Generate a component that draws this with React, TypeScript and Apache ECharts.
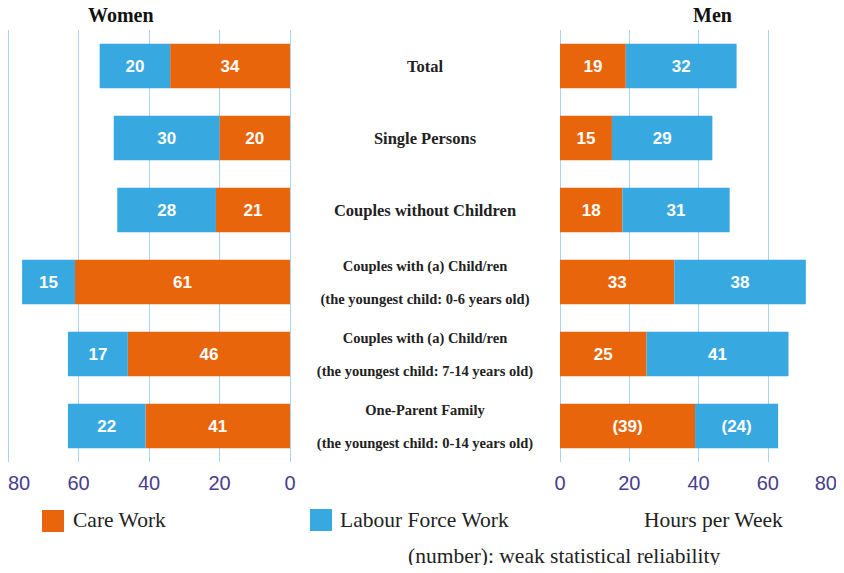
import React, { useEffect, useRef } from "react";
import * as echarts from "echarts";

const categories = [
  "Total",
  "Single Persons",
  "Couples without Children",
  "Couples with (a) Child/ren\n(the youngest child: 0-6 years old)",
  "Couples with (a) Child/ren\n(the youngest child: 7-14 years old)",
  "One-Parent Family\n(the youngest child: 0-14 years old)",
];
const womenCare = [34, 20, 21, 61, 46, 41];
const womenLabour = [20, 30, 28, 15, 17, 22];
const menCare = [19, 15, 18, 33, 25, 39];
const menLabour = [32, 29, 31, 38, 41, 24];
const menWeak = [false, false, false, false, false, true];
const womenWeak = [false, false, false, false, false, false];
const axisTicks = [0, 20, 40, 60, 80];
const legendNames = ["Care Work", "Labour Force Work"];

const ORANGE = "#E8650C";
const BLUE = "#38A9E0";
const SERIF = "'Liberation Serif', serif";
const SANS = "'Liberation Sans', sans-serif";

export default function App() {
  const ref = useRef<HTMLDivElement>(null);
  useEffect(() => {
    if (!ref.current) return;
    const chart = echarts.init(ref.current, undefined, { renderer: "svg" });
    const valLabel = (weak: boolean[]) => ({
      show: true,
      color: "#fff",
      fontFamily: SANS,
      fontWeight: "bold" as const,
      fontSize: 17,
      formatter: (p: any) => (weak[p.dataIndex] ? `(${p.value})` : `${p.value}`),
    });
    const xBase = (grid: number, inverse: boolean) => ({
      type: "value" as const,
      gridIndex: grid,
      min: axisTicks[0],
      max: axisTicks[axisTicks.length - 1],
      interval: 20,
      inverse,
      axisLine: { show: false },
      axisTick: { show: false },
      splitLine: { show: true, lineStyle: { color: "#A9D3F0", width: 1 } },
      axisLabel: {
        color: "#4A3C8C",
        fontFamily: SANS,
        fontSize: 20,
        margin: 11,
        ...(inverse ? { alignMaxLabel: "left" } : { alignMaxLabel: "right" }),
      },
    });
    const serifText = (x: number, y: number, text: string) => ({
      type: "text",
      left: x,
      top: y,
      style: { text, fontFamily: SERIF, fontSize: 21.5, fill: "#222" },
    });
    chart.setOption({
      animation: false,
      backgroundColor: "#fff",
      grid: [
        { left: 8, top: 30, width: 282, height: 432, containLabel: false },
        { left: 560, top: 30, width: 277, height: 432, containLabel: false },
      ],
      xAxis: [xBase(0, true), xBase(1, false)],
      yAxis: [
        {
          type: "category",
          gridIndex: 0,
          data: categories,
          inverse: true,
          position: "right",
          axisLine: { show: false },
          axisTick: { show: false },
          axisLabel: {
            margin: 135,
            align: "center",
            formatter: (v: string) => {
              const parts = v.split("\n");
              if (parts.length === 1) return `{a|${v}}`;
              return parts.map((s) => `{b|${s}}`).join("\n");
            },
            rich: {
              a: { fontFamily: SERIF, fontWeight: "bold", fontSize: 16.5, color: "#222" },
              b: { fontFamily: SERIF, fontWeight: "bold", fontSize: 14.5, color: "#222", lineHeight: 33 },
            },
          },
        },
        {
          type: "category",
          gridIndex: 1,
          data: categories,
          inverse: true,
          axisLine: { show: false },
          axisTick: { show: false },
          axisLabel: { show: false },
        },
      ],
      series: [
        {
          name: legendNames[0],
          type: "bar",
          stack: "w",
          xAxisIndex: 0,
          yAxisIndex: 0,
          data: womenCare,
          barWidth: "62%",
          itemStyle: { color: ORANGE },
          label: valLabel(womenWeak),
        },
        {
          name: legendNames[1],
          type: "bar",
          stack: "w",
          xAxisIndex: 0,
          yAxisIndex: 0,
          data: womenLabour,
          barWidth: "62%",
          itemStyle: { color: BLUE },
          label: valLabel(womenWeak),
        },
        {
          name: legendNames[0],
          type: "bar",
          stack: "m",
          xAxisIndex: 1,
          yAxisIndex: 1,
          data: menCare,
          barWidth: "62%",
          itemStyle: { color: ORANGE },
          label: valLabel(menWeak),
        },
        {
          name: legendNames[1],
          type: "bar",
          stack: "m",
          xAxisIndex: 1,
          yAxisIndex: 1,
          data: menLabour,
          barWidth: "62%",
          itemStyle: { color: BLUE },
          label: valLabel(menWeak),
        },
      ],
      graphic: [
        { type: "rect", left: 42, top: 510, shape: { width: 22, height: 22 }, style: { fill: ORANGE } },
        { type: "rect", left: 310, top: 509, shape: { width: 22, height: 22 }, style: { fill: BLUE } },
        serifText(73, 509, legendNames[0]),
        serifText(340, 509, legendNames[1]),
        serifText(644, 509, "Hours per Week"),
        serifText(408, 545, "(number): weak statistical reliability"),
        {
          type: "text",
          left: 88,
          top: 5,
          style: { text: "Women", fontFamily: SERIF, fontWeight: "bold", fontSize: 20, fill: "#111" },
        },
        {
          type: "text",
          left: 693,
          top: 5,
          style: { text: "Men", fontFamily: SERIF, fontWeight: "bold", fontSize: 20, fill: "#111" },
        },
      ],
    });
    return () => chart.dispose();
  }, []);
  return <div ref={ref} style={{ width: 844, height: 573, margin: -8 }} />;
}
